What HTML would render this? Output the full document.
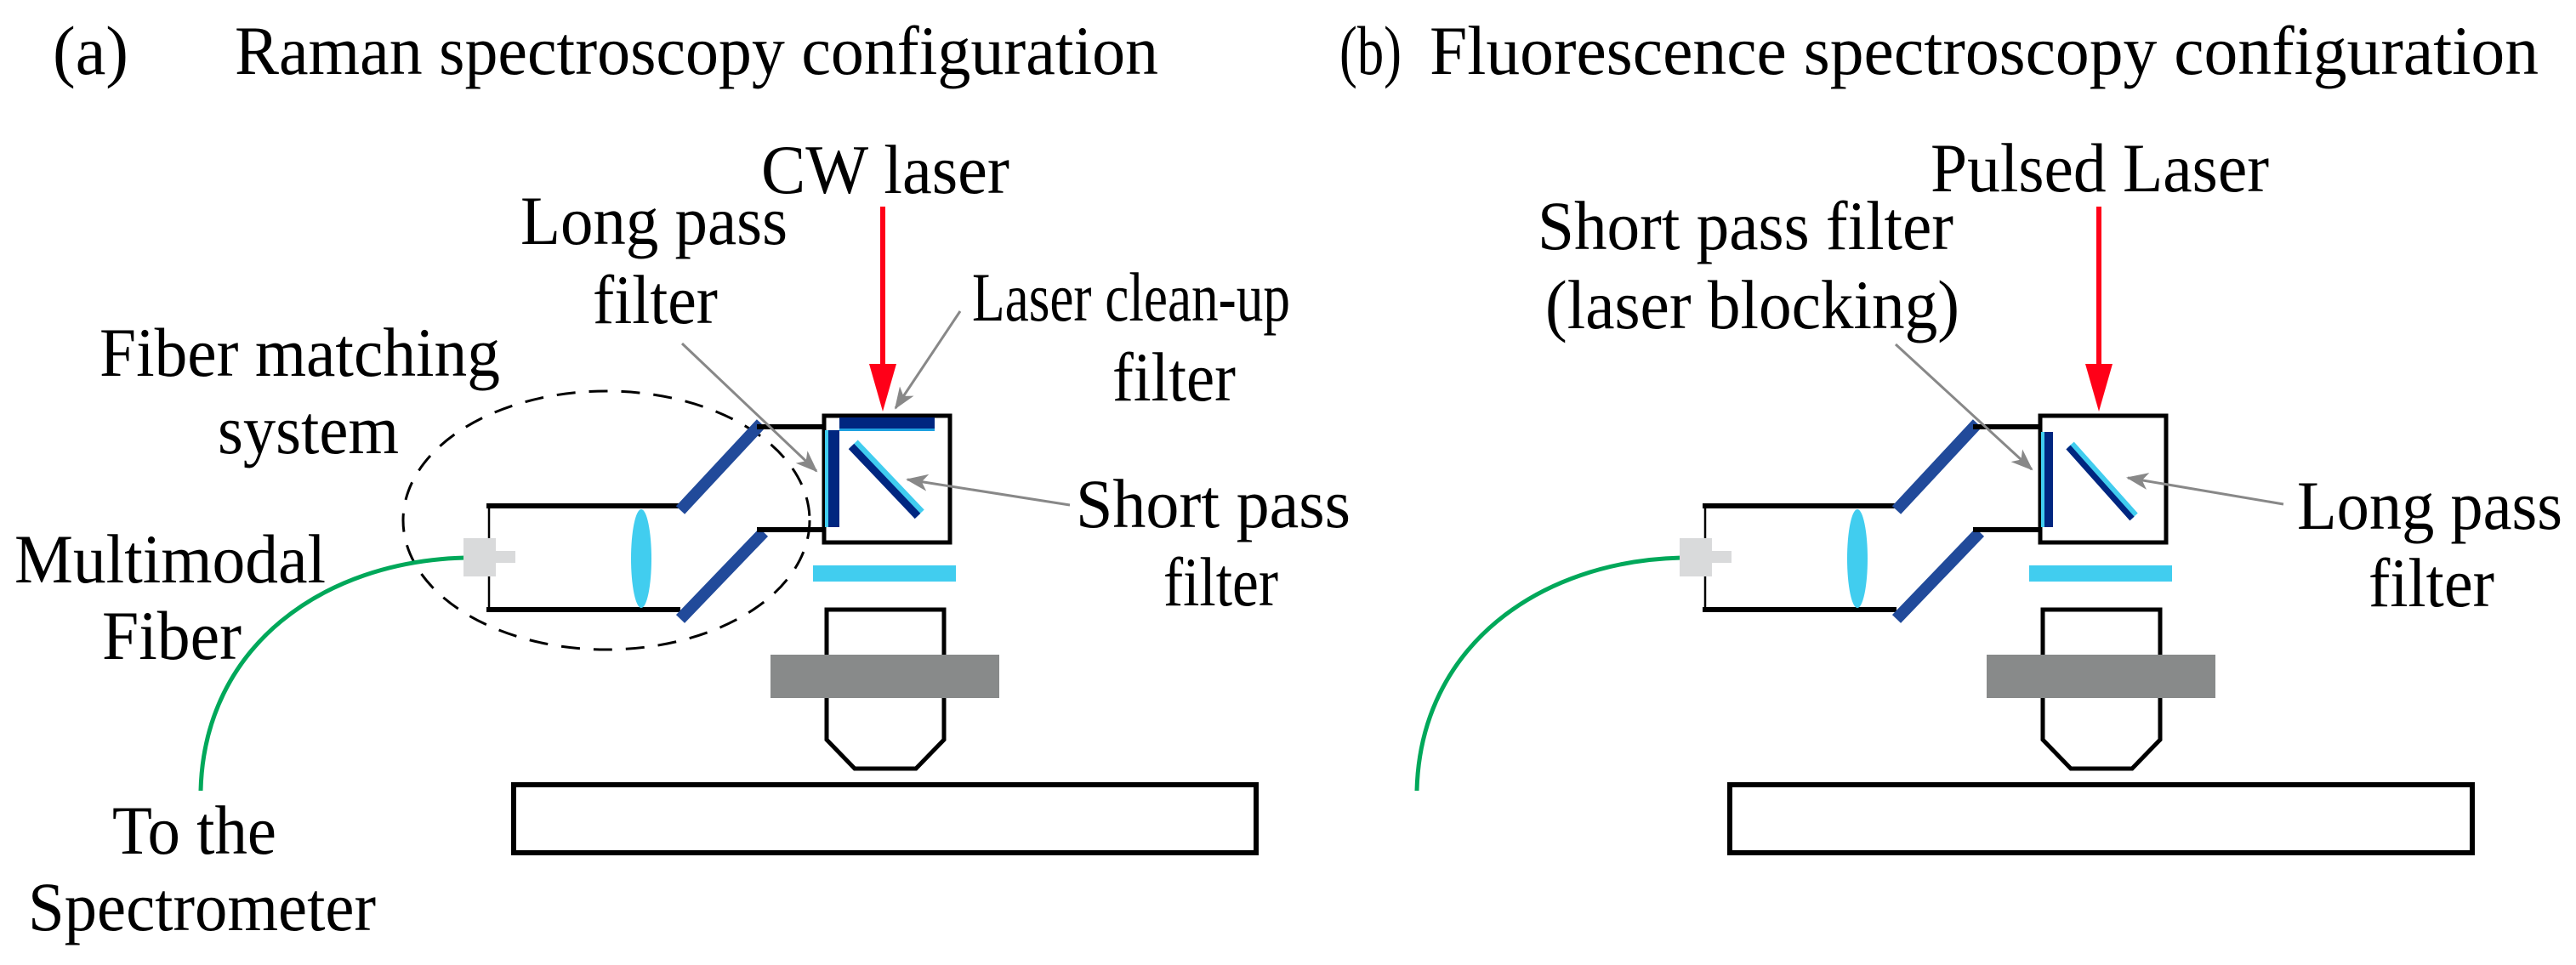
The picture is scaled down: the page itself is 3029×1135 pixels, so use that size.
<!DOCTYPE html>
<html><head><meta charset="utf-8"><style>html,body{margin:0;padding:0;background:#fff}svg{display:block}svg text{font-family:"Liberation Serif","Times New Roman",serif;font-size:82px}</style></head>
<body>
<svg width="3029" height="1135" viewBox="0 0 3029 1135" xmlns="http://www.w3.org/2000/svg" fill="#000">
<defs>
<marker id="ga" markerWidth="26" markerHeight="20" refX="24" refY="10" orient="auto" markerUnits="userSpaceOnUse" viewBox="0 0 26 20"><path d="M0,0 L26,10 L0,20 L7,10 z" fill="#888"/></marker>
</defs>
<text x="62" y="87" textLength="89" lengthAdjust="spacingAndGlyphs">(a)</text>
<text x="276" y="87" textLength="1086" lengthAdjust="spacingAndGlyphs">Raman spectroscopy configuration</text>
<text x="1575" y="87" textLength="73" lengthAdjust="spacingAndGlyphs">(b)</text>
<text x="1681" y="87" textLength="1304" lengthAdjust="spacingAndGlyphs">Fluorescence spectroscopy configuration</text>

<g id="pa">
<ellipse cx="713" cy="612" rx="239" ry="152" fill="none" stroke="#000" stroke-width="3" stroke-dasharray="22,16"/>
<line x1="572" y1="595" x2="800" y2="595" stroke="#000" stroke-width="6"/>
<line x1="572" y1="717" x2="800" y2="717" stroke="#000" stroke-width="6"/>
<line x1="575" y1="595" x2="575" y2="717" stroke="#000" stroke-width="2.5"/>
<ellipse cx="754" cy="657" rx="12" ry="58" fill="#41cdef"/>
<line x1="800" y1="600" x2="895" y2="498" stroke="#214a9a" stroke-width="14"/>
<line x1="800" y1="728" x2="898" y2="626" stroke="#214a9a" stroke-width="14"/>
<line x1="890" y1="502" x2="968" y2="502" stroke="#000" stroke-width="6"/>
<line x1="890" y1="623" x2="968" y2="623" stroke="#000" stroke-width="6"/>
<rect x="969" y="489" width="148" height="149" fill="none" stroke="#000" stroke-width="5"/>
<rect x="987" y="491" width="112" height="14" fill="#002680"/>
<rect x="987" y="504" width="112" height="3" fill="#1ea0e0"/>
<rect x="970" y="506" width="17" height="114" fill="#002680"/>
<rect x="970" y="506" width="4" height="114" fill="#41cdef"/>
<line x1="1004" y1="522" x2="1082" y2="604" stroke="#41cdef" stroke-width="13"/>
<line x1="1001" y1="525" x2="1079" y2="607" stroke="#002680" stroke-width="9"/>
<rect x="956" y="665" width="168" height="19" fill="#41cdef"/>
<path d="M972,870 L972,717 L1110,717 L1110,870 L1077,904 L1005,904 Z" fill="none" stroke="#000" stroke-width="5"/>
<rect x="906" y="770" width="269" height="51" fill="#888a8a"/>
<rect x="604" y="923" width="873" height="80" fill="none" stroke="#000" stroke-width="6"/>
<path d="M547,656 C380,660 240,760 236,930" fill="none" stroke="#00a85a" stroke-width="5"/>
<rect x="545" y="633" width="38" height="45" fill="#d9dadb"/>
<rect x="583" y="648" width="23" height="14" fill="#d9dadb"/>
<line x1="1038" y1="243" x2="1038" y2="432" stroke="#ff0018" stroke-width="6"/>
<path d="M1022,428 L1054,428 L1038,484 Z" fill="#ff0018"/>
</g>
<line x1="802" y1="404" x2="960" y2="554" stroke="#888" stroke-width="3" marker-end="url(#ga)"/>
<line x1="1129" y1="366" x2="1053" y2="480" stroke="#888" stroke-width="3" marker-end="url(#ga)"/>
<line x1="1258" y1="594" x2="1067" y2="564" stroke="#888" stroke-width="3" marker-end="url(#ga)"/>
<text x="895" y="227" textLength="292" lengthAdjust="spacingAndGlyphs">CW laser</text>
<text x="612" y="287" textLength="314" lengthAdjust="spacingAndGlyphs">Long pass</text>
<text x="697" y="380" textLength="147" lengthAdjust="spacingAndGlyphs">filter</text>
<text x="1143" y="377" textLength="374" lengthAdjust="spacingAndGlyphs">Laser clean-up</text>
<text x="1308" y="471" textLength="145" lengthAdjust="spacingAndGlyphs">filter</text>
<text x="117" y="442" textLength="471" lengthAdjust="spacingAndGlyphs">Fiber matching</text>
<text x="256" y="533" textLength="213" lengthAdjust="spacingAndGlyphs">system</text>
<text x="17" y="685" textLength="366" lengthAdjust="spacingAndGlyphs">Multimodal</text>
<text x="120" y="775" textLength="164" lengthAdjust="spacingAndGlyphs">Fiber</text>
<text x="1265" y="620" textLength="323" lengthAdjust="spacingAndGlyphs">Short pass</text>
<text x="1368" y="712" textLength="135" lengthAdjust="spacingAndGlyphs">filter</text>
<text x="132" y="1004" textLength="193" lengthAdjust="spacingAndGlyphs">To the</text>
<text x="33" y="1094" textLength="409" lengthAdjust="spacingAndGlyphs">Spectrometer</text>

<g transform="translate(1430,0)">
<line x1="572" y1="595" x2="800" y2="595" stroke="#000" stroke-width="6"/>
<line x1="572" y1="717" x2="800" y2="717" stroke="#000" stroke-width="6"/>
<line x1="575" y1="595" x2="575" y2="717" stroke="#000" stroke-width="2.5"/>
<ellipse cx="754" cy="657" rx="12" ry="58" fill="#41cdef"/>
<line x1="800" y1="600" x2="895" y2="498" stroke="#214a9a" stroke-width="14"/>
<line x1="800" y1="728" x2="898" y2="626" stroke="#214a9a" stroke-width="14"/>
<line x1="890" y1="502" x2="968" y2="502" stroke="#000" stroke-width="6"/>
<line x1="890" y1="623" x2="968" y2="623" stroke="#000" stroke-width="6"/>
<rect x="969" y="489" width="148" height="149" fill="none" stroke="#000" stroke-width="5"/>
<rect x="970" y="508" width="14" height="112" fill="#002680"/>
<rect x="970" y="508" width="4" height="112" fill="#41cdef"/>
<line x1="1005" y1="523" x2="1080" y2="607" stroke="#41cdef" stroke-width="10"/>
<line x1="1002" y1="526" x2="1077" y2="610" stroke="#002680" stroke-width="7"/>
<rect x="956" y="665" width="168" height="19" fill="#41cdef"/>
<path d="M972,870 L972,717 L1110,717 L1110,870 L1077,904 L1005,904 Z" fill="none" stroke="#000" stroke-width="5"/>
<rect x="906" y="770" width="269" height="51" fill="#888a8a"/>
<rect x="604" y="923" width="873" height="80" fill="none" stroke="#000" stroke-width="6"/>
<path d="M547,656 C380,660 240,760 236,930" fill="none" stroke="#00a85a" stroke-width="5"/>
<rect x="545" y="633" width="38" height="45" fill="#d9dadb"/>
<rect x="583" y="648" width="23" height="14" fill="#d9dadb"/>
<line x1="1038" y1="243" x2="1038" y2="432" stroke="#ff0018" stroke-width="6"/>
<path d="M1022,428 L1054,428 L1038,484 Z" fill="#ff0018"/>
</g>
<line x1="2229" y1="405" x2="2389" y2="552" stroke="#888" stroke-width="3" marker-end="url(#ga)"/>
<line x1="2685" y1="593" x2="2502" y2="562" stroke="#888" stroke-width="3" marker-end="url(#ga)"/>
<text x="2270" y="225" textLength="398" lengthAdjust="spacingAndGlyphs">Pulsed Laser</text>
<text x="1808" y="293" textLength="489" lengthAdjust="spacingAndGlyphs">Short pass filter</text>
<text x="1817" y="386" textLength="487" lengthAdjust="spacingAndGlyphs">(laser blocking)</text>
<text x="2701" y="622" textLength="312" lengthAdjust="spacingAndGlyphs">Long pass</text>
<text x="2785" y="713" textLength="148" lengthAdjust="spacingAndGlyphs">filter</text>
</svg>
</body></html>
